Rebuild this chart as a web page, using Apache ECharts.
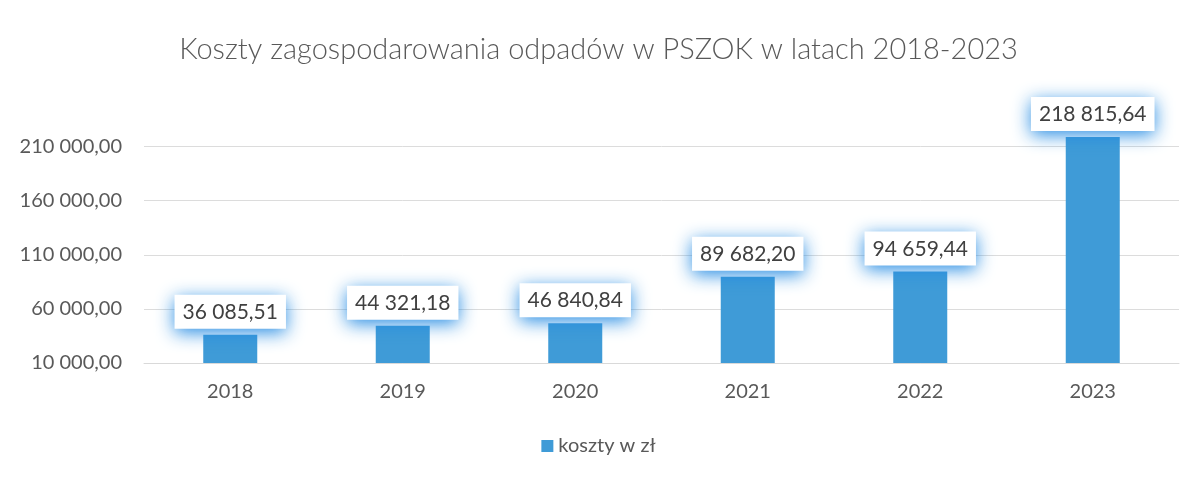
<!DOCTYPE html>
<html>
<head>
    <meta charset="utf-8">
    <title>ECharts</title>
    <script src="https://cdn.jsdelivr.net/npm/echarts@6/dist/echarts.min.js"></script>
</head>
<body style="margin:0">
    <div id="main" style="width: 1197px;height:480px;"></div>
    <script type="text/javascript">
        var years = ['2018', '2019', '2020', '2021', '2022', '2023'];
        var costs = [36085.51, 44321.18, 46840.84, 89682.20, 94659.44, 218815.64];
        var seriesName = 'koszty w zł';
        var titleText = 'Koszty zagospodarowania odpadów w PSZOK w latach 2018-2023';

        // polish number format: 36 085,51
        function plNum(v) {
            var parts = v.toFixed(2).split('.');
            return parts[0].replace(/\B(?=(\d{3})+(?!\d))/g, ' ') + ',' + parts[1];
        }

        var myChart = echarts.init(document.getElementById('main'));
        var font = 'Lato, "Open Sans", sans-serif';

        var option = {
            backgroundColor: '#fff',
            textStyle: { fontFamily: font },
            title: {
                text: titleText,
                left: 'center',
                top: 30,
                textStyle: { fontFamily: font, fontSize: 29, fontWeight: 300, color: '#595959' }
            },
            legend: {
                bottom: 19,
                left: 'center',
                itemWidth: 12,
                itemHeight: 12,
                itemGap: 8,
                icon: 'rect',
                textStyle: { fontSize: 20, color: '#595959' },
                data: [seriesName]
            },
            grid: {
                left: 144,
                right: 18,
                top: 125,
                bottom: 117
            },
            xAxis: {
                type: 'category',
                data: years,
                axisTick: { show: false },
                axisLine: { lineStyle: { color: '#d9d9d9' } },
                axisLabel: { fontSize: 20, color: '#595959', margin: 19 }
            },
            yAxis: {
                type: 'value',
                min: 10000,
                max: 230000,
                interval: 50000,
                axisLabel: {
                    fontSize: 20, color: '#595959', margin: 22,
                    showMaxLabel: false,
                    formatter: function (v) { return plNum(v); }
                },
                splitLine: { showMaxLine: false, lineStyle: { color: '#dcdcdc' } }
            },
            series: [{
                name: seriesName,
                type: 'bar',
                barWidth: 54,
                data: costs,
                itemStyle: { color: '#3f9bd7' },
                label: {
                    show: true,
                    position: 'top',
                    distance: 6,
                    formatter: function (p) { return plNum(p.value); },
                    fontSize: 21,
                    color: '#404040',
                    backgroundColor: '#fff',
                    padding: [7, 8, 6, 8],
                    shadowBlur: 18,
                    shadowColor: 'rgba(30,135,225,0.95)',
                    shadowOffsetY: 4
                }
            }]
        };

        myChart.setOption(option);
    </script>
</body>
</html>
